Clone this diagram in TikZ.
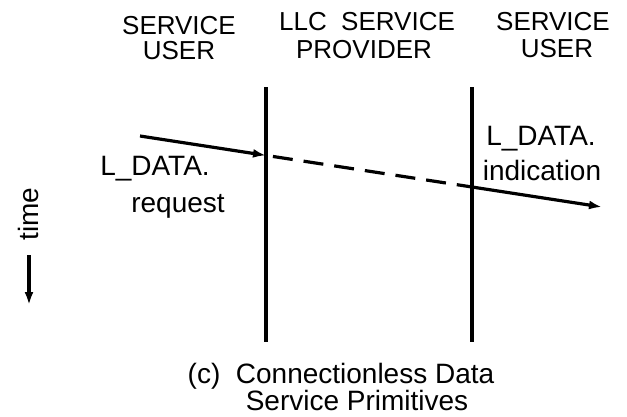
\documentclass[tikz,border=0pt]{standalone}
\usepackage{fontspec}
\setmainfont{Liberation Sans}
\usetikzlibrary{arrows.meta}
\tikzset{
  hdr/.style={anchor=base, inner sep=0pt, font=\fontsize{26}{30}\selectfont},
  lbl/.style={anchor=base, inner sep=0pt, font=\fontsize{28}{30}\selectfont},
  captext/.style={anchor=base, inner sep=0pt, font=\fontsize{28}{30}\selectfont},
  lifeline/.style={line width=3.2pt},
  msg/.style={line width=3.2pt},
  arrowtip/.style={-{Latex[length=13pt,width=9pt]}},
}
\begin{document}
\begin{tikzpicture}[x=1pt,y=-1pt]
\useasboundingbox (0,0) rectangle (627,416);
% headers
\node[hdr] (hL1) at (179,34) {SERVICE};
\node[hdr] (hL2) at (179,59) {USER};
\node[hdr] (hM1) at (367,30) {LLC\ \ SERVICE};
\node[hdr] (hM2) at (364,58) {PROVIDER};
\node[hdr] (hR1) at (553,30) {SERVICE};
\node[hdr] (hR2) at (557,57) {USER};
% lifelines
\coordinate (lt) at (266,87);
\coordinate (lb) at (266,342);
\coordinate (rt) at (472,87);
\coordinate (rb) at (472,342);
\draw[lifeline] (lt) -- (lb);
\draw[lifeline] (rt) -- (rb);
% message
\coordinate (a) at (140,136);
\coordinate (p1) at (266,155.4);
\coordinate (p2) at (472,187);
\coordinate (e) at (602,207);
\draw[msg,arrowtip] (a) -- (p1);
\draw[msg,dash pattern=on 20pt off 11pt,dash phase=-7pt] (p1) -- (p2);
\draw[msg,arrowtip] (p2) -- (e);
% labels
\node[lbl] (req1) at (155,175) {L\_DATA.};
\node[lbl] (req2) at (178,212) {request};
\node[lbl] (ind1) at (541,145) {L\_DATA.};
\node[lbl] (ind2) at (542,180) {indication};
% time
\node[lbl, rotate=90, anchor=base] (time) at (38,214) {time};
\coordinate (t1) at (29,255);
\coordinate (t2) at (29,305);
\draw[lifeline,arrowtip] (t1) -- (t2);
% caption
\node[captext] (c1) at (341,383) {(c)\ \ Connectionless Data};
\node[captext] (c2) at (357,410) {Service Primitives};
\end{tikzpicture}
\end{document}
